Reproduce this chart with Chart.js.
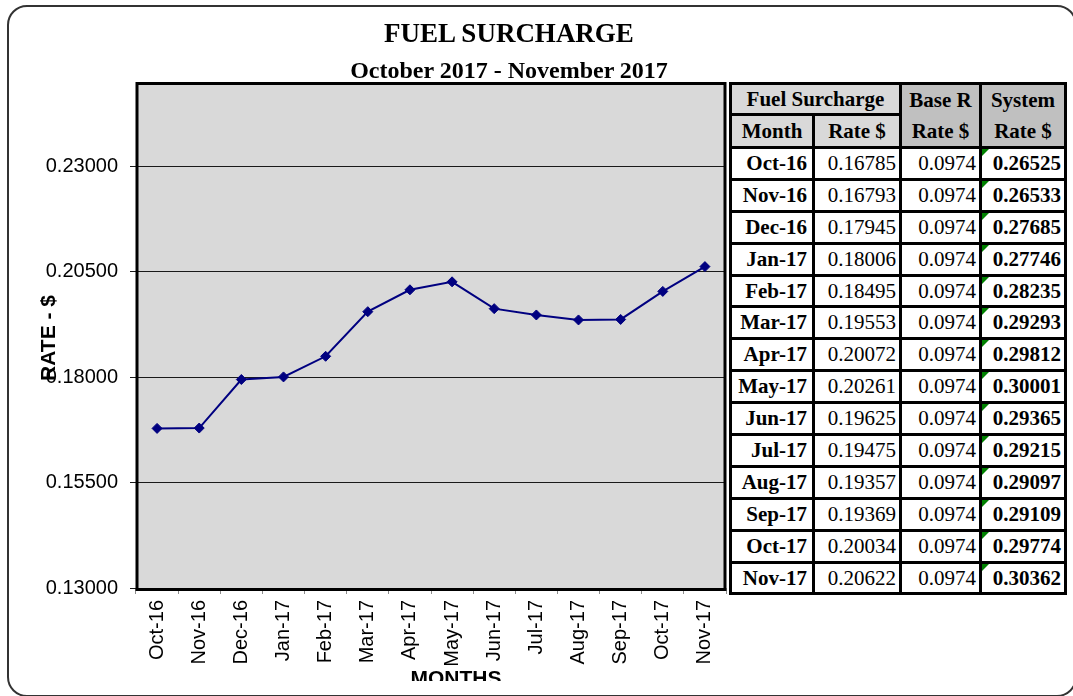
<!DOCTYPE html>
<html lang="en">
<head>
  <meta charset="UTF-8">
  <title>Fuel Surcharge</title>
  <style>
body {
  margin: 0;
  width: 1073px;
  height: 696px;
  overflow: hidden;
  background: #fff;
  position: relative;
}

/* rounded outer frame */
.frame {
  position: absolute;
  left: 7px;
  top: 5px;
  width: 1066px;
  height: 688px;
  border: 2px solid #333;
  border-radius: 20px;
}

.title, .subtitle {
  position: absolute;
  left: 0;
  width: 1018px;
  text-align: center;
  font-family: "Liberation Serif", "Times New Roman", serif;
  font-weight: bold;
  color: #000;
  white-space: nowrap;
}
.title { top: 20px; font-size: 27px; line-height: 27px; }
.subtitle { top: 58px; font-size: 24px; line-height: 24px; }

#chart {
  position: absolute;
  left: 0;
  top: 0;
}

/* rate table on the right */
#tbl {
  position: absolute;
  left: 729px;
  top: 82px;
  display: grid;
  grid-template-columns: 80px 84px 77px 82px;
  grid-template-rows: 28px 30px repeat(14, 28.9px);
  gap: 3px;
  padding: 3px;
  background: #000;
  font-family: "Liberation Serif", "Times New Roman", serif;
  font-size: 21px;
  color: #000;
}
#tbl .c {
  background: #fff;
  display: flex;
  align-items: center;
  justify-content: flex-end;
  padding-right: 3px;
  white-space: nowrap;
}
#tbl .hd {
  justify-content: center;
  padding-right: 0;
  font-weight: bold;
  background: #d9d9d9;
  text-align: center;
}
#tbl .hd2 {
  background: #c0c0c0;
  line-height: 31px;
  grid-row: span 2;
}
#tbl .mon { font-weight: bold; padding-right: 5px; }
#tbl .sys { font-weight: bold; position: relative; }
#tbl .sys::before {
  content: '';
  position: absolute;
  left: 0;
  top: 0;
  border-top: 7px solid #008000;
  border-right: 7px solid transparent;
}
  </style>
</head>
<body>

  <div class="frame"></div>
  <canvas id="chart" width="760" height="681"></canvas>
  <div class="title">FUEL SURCHARGE</div>
  <div class="subtitle">October 2017 - November 2017</div>
  <div id="tbl"></div>

  <script src="https://cdn.jsdelivr.net/npm/chart.js"></script>

  <script>
    const months = ['Oct-16', 'Nov-16', 'Dec-16', 'Jan-17', 'Feb-17', 'Mar-17', 'Apr-17',
                    'May-17', 'Jun-17', 'Jul-17', 'Aug-17', 'Sep-17', 'Oct-17', 'Nov-17'];
    const fuelRates = [0.16785, 0.16793, 0.17945, 0.18006, 0.18495, 0.19553, 0.20072,
                       0.20261, 0.19625, 0.19475, 0.19357, 0.19369, 0.20034, 0.20622];
    const baseRates = [0.0974, 0.0974, 0.0974, 0.0974, 0.0974, 0.0974, 0.0974,
                       0.0974, 0.0974, 0.0974, 0.0974, 0.0974, 0.0974, 0.0974];
    const systemRates = [0.26525, 0.26533, 0.27685, 0.27746, 0.28235, 0.29293, 0.29812,
                         0.30001, 0.29365, 0.29215, 0.29097, 0.29109, 0.29774, 0.30362];
    const yTicks = [0.13, 0.155, 0.18, 0.205, 0.23];
    const yMin = 0.13;
    const yMax = 0.25;

    // build the table
    const tbl = document.getElementById('tbl');
    function cell(text, cls) {
      const d = document.createElement('div');
      d.className = 'c ' + cls;
      d.innerHTML = text;
      tbl.appendChild(d);
      return d;
    }
    cell('Fuel Surcharge', 'hd').style.gridColumn = 'span 2';
    cell('Base R<br>Rate $', 'hd hd2');
    cell('System<br>Rate $', 'hd hd2');
    cell('Month', 'hd');
    cell('Rate $', 'hd');
    months.forEach((m, i) => {
      cell(m, 'mon');
      cell(fuelRates[i].toFixed(5), 'rate');
      cell(baseRates[i].toFixed(4), 'base');
      cell(systemRates[i].toFixed(5), 'sys');
    });

    const sans = '"Liberation Sans", Arial, sans-serif';

    // gray plot area, black border and the two axis titles
    const plotDeco = {
      id: 'plotDeco',
      beforeDraw(chart) {
        const { ctx, chartArea: a } = chart;
        ctx.save();
        ctx.fillStyle = '#d9d9d9';
        ctx.fillRect(a.left, a.top, a.right - a.left, a.bottom - a.top);
        ctx.restore();
      },
      afterDraw(chart) {
        const { ctx, chartArea: a } = chart;
        ctx.save();
        ctx.strokeStyle = '#000';
        ctx.lineWidth = 3;
        ctx.strokeRect(a.left + 1, a.top + 1.5, a.right - a.left - 2, a.bottom - a.top);

        ctx.fillStyle = '#000';
        ctx.font = 'bold 21px ' + sans;
        ctx.textAlign = 'center';
        ctx.textBaseline = 'alphabetic';
        ctx.fillText('MONTHS', 456, 685);

        ctx.translate(55, (a.top + a.bottom) / 2 + 3);
        ctx.rotate(-Math.PI / 2);
        ctx.fillText('RATE - $', 0, 0);
        ctx.restore();
      }
    };

    const ctx = document.getElementById('chart').getContext('2d');
    const fuelChart = new Chart(ctx, {
      type: 'line',
      data: {
        labels: months,
        datasets: [{
          data: fuelRates,
          borderColor: '#000080',
          backgroundColor: '#000080',
          borderWidth: 2,
          pointStyle: 'rectRot',
          pointRadius: 5,
          pointBorderWidth: 1,
          tension: 0,
          fill: false,
        }],
      },
      options: {
        responsive: false,
        animation: false,
        layout: { padding: { left: 0, top: 82, right: 34, bottom: 0 } },
        plugins: {
          legend: { display: false },
          tooltip: { enabled: false },
        },
        scales: {
          x: {
            offset: true,
            afterFit: (axis) => { axis.height = 93; },
            grid: { offset: true, drawOnChartArea: false, color: '#8c8c8c', tickLength: 6 },
            border: { display: false },
            ticks: {
              color: '#000',
              font: { family: sans, size: 20 },
              minRotation: 90,
              maxRotation: 90,
              autoSkip: false,
              padding: 6,
            },
          },
          y: {
            min: yMin,
            max: yMax,
            afterBuildTicks: (axis) => { axis.ticks = yTicks.map(v => ({ value: v })); },
            afterFit: (axis) => { axis.width = 136; },
            grid: { color: '#1a1a1a', lineWidth: 1, tickLength: 6 },
            border: { display: false },
            ticks: {
              color: '#000',
              font: { family: sans, size: 20 },
              padding: 12,
              callback: (v) => Number(v).toFixed(5),
            },
          },
        },
      },
      plugins: [plotDeco],
    });
  </script>

</body>
</html>
